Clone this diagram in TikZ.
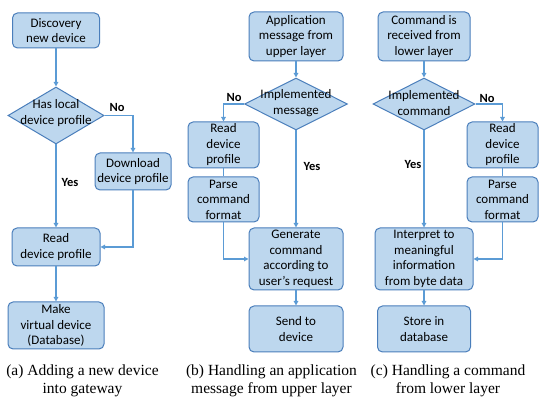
\documentclass[tikz,border=0pt]{standalone}
\usepackage{fontspec}
\setmainfont{Carlito}
\newfontfamily\capfont{Liberation Serif}
\usetikzlibrary{shapes.geometric,arrows.meta}
\definecolor{boxfill}{HTML}{BDD7EE}
\definecolor{boxline}{HTML}{4A7EBB}
\definecolor{conn}{HTML}{5B9BD5}
\begin{document}
\begin{tikzpicture}[x=1pt,y=-1pt,
  proc/.style={draw=boxline, fill=boxfill, rounded corners=5pt, line width=1pt, align=center, inner sep=0pt, font=\fontsize{13}{15.5}\selectfont},
  dec/.style={draw=boxline, fill=boxfill, shape=diamond, inner sep=0pt, line width=1pt},
  txt/.style={align=center, inner sep=0pt, font=\fontsize{13}{15.5}\selectfont},
  lbl/.style={inner sep=0pt, font=\fontsize{12.5}{15}\selectfont\bfseries},
  arr/.style={draw=conn, line width=1.3pt, -{Triangle[length=4.5pt,width=4.5pt]}},
  ln/.style={draw=conn, line width=1.3pt},
  captxt/.style={align=center, inner sep=0pt, font=\capfont\fontsize{15.5}{18}\selectfont}]
\useasboundingbox (0,0) rectangle (550,403);

% ---------- panel (a)
\node[proc, minimum width=87pt, minimum height=35pt] (a1) at (56,30.5) {Discovery\\new device};
\node[dec, minimum width=96pt, minimum height=57pt] (a2) at (56,115.5) {};
\node[txt] (a2t) at (56,113) {Has local\\device profile};
\node[proc, minimum width=76pt, minimum height=37pt] (a3) at (133,171.5) {Download\\device profile};
\node[proc, minimum width=88pt, minimum height=38pt] (a4) at (56,247) {Read\\device profile};
\node[proc, minimum width=96pt, minimum height=47pt] (a5) at (56,325.5) {Make\\virtual device\\(Database)};
\draw[arr] (a1) -- (a2);
\draw[arr] (a2.east) -| (a3.north);
\draw[arr] (a2.south) -- (a4.north);
\draw[arr] (a3.south) |- (a4.east);
\draw[arr] (a4) -- (a5);
\node[lbl] (aNo) at (117,107) {No};
\node[lbl] (aYes) at (70,182) {Yes};
\node[captxt] (acap) at (82.5,381) {(a) Adding a new device\\into gateway};

% ---------- panel (b)
\node[proc, minimum width=94pt, minimum height=49pt] (b1) at (296,36.5) {Application\\message from\\upper layer};
\node[dec, minimum width=103pt, minimum height=52pt] (b2) at (296,104) {};
\node[txt] (b2t) at (296,103) {Implemented\\message};
\node[proc, minimum width=71pt, minimum height=46pt] (b3) at (223.5,145) {Read\\device\\profile};
\node[proc, minimum width=71pt, minimum height=45pt] (b4) at (223.5,199.5) {Parse\\command\\format};
\node[proc, minimum width=94pt, minimum height=62pt] (b5) at (296,259) {Generate\\command\\according to\\user’s request};
\node[proc, minimum width=94pt, minimum height=46pt] (b6) at (296,329) {Send to\\device};
\draw[arr] (b1) -- (b2);
\draw[arr] (b2.west) -| (b3.north);
\draw[ln] (b3) -- (b4);
\draw[arr] (b2.south) -- (b5.north);
\draw[arr] (b4.south) |- (b5.west);
\draw[arr] (b5) -- (b6);
\node[lbl] (bNo) at (234,97) {No};
\node[lbl] (bYes) at (312,166) {Yes};
\node[captxt] (bcap) at (271.5,381) {(b) Handling an application\\message from upper layer};

% ---------- panel (c)
\node[proc, minimum width=92pt, minimum height=49pt] (c1) at (424,36.5) {Command is\\received from\\lower layer};
\node[dec, minimum width=102pt, minimum height=52pt] (c2) at (424,104) {};
\node[txt] (c2t) at (424,103) {Implemented\\command};
\node[proc, minimum width=71pt, minimum height=46pt] (c3) at (502.5,145) {Read\\device\\profile};
\node[proc, minimum width=71pt, minimum height=45pt] (c4) at (502.5,199.5) {Parse\\command\\format};
\node[proc, minimum width=98pt, minimum height=62pt] (c5) at (424,259) {Interpret to\\meaningful\\information\\from byte data};
\node[proc, minimum width=93pt, minimum height=46pt] (c6) at (424,329) {Store in\\database};
\draw[arr] (c1) -- (c2);
\draw[arr] (c2.east) -| (c3.north);
\draw[ln] (c3) -- (c4);
\draw[arr] (c2.south) -- (c5.north);
\draw[arr] (c4.south) |- (c5.east);
\draw[arr] (c5) -- (c6);
\node[lbl] (cNo) at (487,98) {No};
\node[lbl] (cYes) at (413,164) {Yes};
\node[captxt] (ccap) at (448,381) {(c) Handling a command\\from lower layer};
\end{tikzpicture}
\end{document}
